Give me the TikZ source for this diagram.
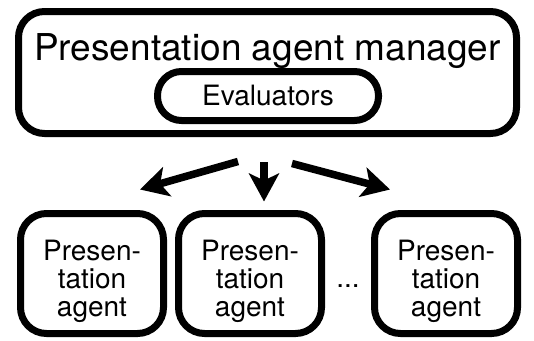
\documentclass[tikz,border=0pt]{standalone}
\usepackage{fontspec}
\setmainfont{TeX Gyre Heros}
\usetikzlibrary{arrows.meta}
\begin{document}
\begin{tikzpicture}[x=1pt,y=-1pt,
        box/.style={draw, line width=7pt, rounded corners=26pt, align=center},
        agentbox/.style={box, minimum width=143pt, minimum height=120pt},
        agtext/.style={align=center, inner sep=0pt, font=\fontsize{28}{28}\selectfont},
        arr/.style={line width=7.5pt, -{Stealth[length=28pt,width=30pt,inset=7pt]}}]
                    \useasboundingbox (0,0) rectangle (534,340);
                    \node[box, minimum width=498pt, minimum height=122pt] (mgr) at (267.5,72.5) {};
                    \node[anchor=base, inner sep=0pt, font=\fontsize{37}{40}\selectfont] (title) at (267.5,60) {Presentation agent manager};
                    \node[box, rounded corners=24pt, minimum width=221pt, minimum height=49pt, font=\fontsize{28}{30}\selectfont] (eval) at (268,96) {Evaluators};
                    \foreach \x/\n in {92/1, 250/2, 446/3} {
                        \node[agentbox] (ag\n) at (\x,273.5) {};
                        \node[agtext, anchor=north] (agt\n) at (\x,240) {Presen-\\tation\\agent};
                    }
                    \node[anchor=base, font=\fontsize{28}{28}\selectfont] (dots) at (348,287) {...};
                    \draw[arr] ([xshift=-29.5pt,yshift=-24.5pt]mgr.south) -- ([xshift=48pt,yshift=20.5pt]ag1.north);
                    \draw[arr] ([xshift=-3.5pt,yshift=-25pt]mgr.south) -- ([xshift=14pt,yshift=8.5pt]ag2.north);
                    \draw[arr] ([xshift=24.5pt,yshift=-26.5pt]mgr.south) -- ([xshift=-56pt,yshift=20.5pt]ag3.north);
                \end{tikzpicture}
\end{document}
